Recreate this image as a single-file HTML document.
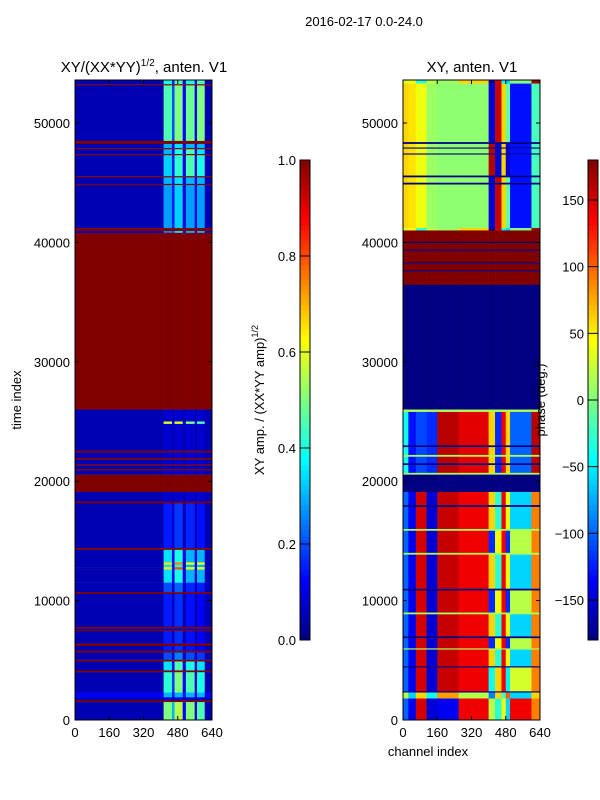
<!DOCTYPE html>
<html><head><meta charset="utf-8">
<style>
html,body{margin:0;padding:0;background:#fff;}
svg{display:block;font-family:"Liberation Sans",sans-serif;}
</style></head>
<body>
<svg id="fig" width="600" height="800" viewBox="0 0 600 800">
<rect x="0" y="0" width="600" height="800" fill="#fff"/>
<text x="364" y="26" font-size="13" text-anchor="middle">2016-02-17 0.0-24.0</text>
<text x="144" y="72" font-size="15" text-anchor="middle">XY/(XX*YY)<tspan font-size="10" dy="-6">1/2</tspan><tspan dy="6">, anten. V1</tspan></text>
<text x="472" y="72" font-size="15" text-anchor="middle">XY, anten. V1</text>
<g id="left"></g>
<g id="right"></g>
<g id="axes"></g>
<text x="0" y="0" font-size="13" text-anchor="middle" transform="translate(21,400) rotate(-90)">time index</text>
<text x="428" y="756" font-size="13" text-anchor="middle">channel index</text>
<text x="0" y="0" font-size="13" text-anchor="middle" transform="translate(264,400) rotate(-90)">XY amp. / (XX*YY amp)<tspan font-size="9" dy="-6">1/2</tspan></text>
<text x="0" y="0" font-size="13" text-anchor="middle" transform="translate(545,400) rotate(-90)">phase (deg.)</text>
</svg>
<script>
// ---- data ----
const leftChanEdges = [0,414,453,465,503,518,559,570,606,640];
const R=[1,1,1,1,1,1,1,1,1];
const BG=[0.05,0.08,0.05,0.08,0.05,0.08,0.05,0.08,0.05];
// rows: [timeStart, timeEnd, values per channel segment]
const leftBandRows = [
[53250,53600,[0.05,0.4,0.15,0.45,0.08,0.4,0.08,0.45,0.05]],
[53150,53250,R],
[48500,53150,[0.05,0.45,0.2,0.5,0.12,0.48,0.1,0.5,0.05]],
[48250,48500,R],
[47900,48250,[0.05,0.3,0.12,0.35,0.1,0.3,0.08,0.3,0.05]],
[47800,47900,R],
[47400,47800,[0.05,0.3,0.12,0.4,0.1,0.45,0.08,0.35,0.05]],
[47300,47400,R],
[45550,47300,[0.05,0.33,0.15,0.42,0.1,0.45,0.1,0.4,0.05]],
[45450,45550,R],
[44900,45450,[0.05,0.3,0.15,0.35,0.1,0.3,0.1,0.3,0.05]],
[44800,44900,R],
[41200,44800,[0.05,0.28,0.15,0.33,0.1,0.28,0.1,0.28,0.05]],
[40950,41200,R],
[40800,40950,[0.08,0.25,0.2,0.35,0.12,0.3,0.1,0.3,0.08]],
[26000,40800,R],
[25000,26000,BG],
[24800,25000,[0.05,0.6,0.1,0.6,0.1,0.5,0.1,0.45,0.05]],
[22550,24800,BG],
[22400,22550,R],
[21950,22400,BG],
[21800,21950,R],
[21420,21800,BG],
[21300,21420,R],
[21020,21300,BG],
[20900,21020,R],
[20550,20900,BG],
[19100,20550,R],
[18300,19100,BG],
[18150,18300,R],
[14400,18150,[0.05,0.15,0.08,0.18,0.06,0.16,0.06,0.14,0.05]],
[14250,14400,R],
[13200,14250,[0.05,0.35,0.12,0.4,0.1,0.3,0.08,0.3,0.05]],
[13000,13200,[0.05,0.65,0.15,0.75,0.1,0.6,0.1,0.6,0.05]],
[12800,13000,[0.05,0.35,0.12,0.4,0.1,0.3,0.08,0.3,0.05]],
[12600,12800,[0.05,0.65,0.15,0.8,0.1,0.6,0.1,0.6,0.05]],
[11500,12600,[0.05,0.35,0.12,0.4,0.1,0.3,0.08,0.3,0.05]],
[10700,11500,[0.05,0.2,0.08,0.22,0.06,0.16,0.06,0.15,0.05]],
[10550,10700,R],
[7800,10550,[0.05,0.15,0.06,0.17,0.05,0.14,0.05,0.12,0.05]],
[7650,7800,R],
[7550,7650,BG],
[7450,7550,R],
[6400,7450,[0.05,0.15,0.06,0.17,0.05,0.14,0.05,0.12,0.05]],
[6200,6400,R],
[5800,6200,[0.05,0.15,0.06,0.17,0.05,0.14,0.05,0.12,0.05]],
[5650,5800,R],
[5050,5650,[0.05,0.2,0.08,0.25,0.06,0.2,0.06,0.18,0.05]],
[4900,5050,R],
[4150,4900,[0.05,0.35,0.12,0.45,0.1,0.4,0.08,0.35,0.05]],
[4000,4150,R],
[2300,4000,[0.05,0.42,0.18,0.5,0.12,0.45,0.08,0.4,0.05]],
[1900,2300,[0.12,0.3,0.15,0.3,0.15,0.3,0.12,0.3,0.12]],
[1650,1900,BG],
[1500,1650,R],
[0,1500,[0.05,0.5,0.3,0.55,0.12,0.5,0.08,0.45,0.05]]
];

const rightChanEdges = [0,25,60,110,160,260,400,430,460,480,500,600,640];
const N=[-180,-180,-180,-180,-180,-180,-180,-180,-180,-180,-180,-180];
const D=[180,180,180,180,180,180,180,180,180,180,180,180];
const G=[15,15,15,15,15,15,15,15,15,15,15,15];
const TOP=[60,55,40,10,5,5,-150,155,60,-10,-130,-20];
const MID=[60,55,40,10,5,5,160,-150,60,-150,-130,-20];
const UP2=[-40,-130,-110,-120,160,145,60,-120,140,60,-100,160];
const LOW=[-100,-140,150,-150,155,140,60,-30,140,40,-60,90];
const LOW2=[-100,-140,150,-150,155,140,-120,40,140,-120,20,90];
const rightBandRows = [
[53300,53600,[30,40,-30,20,10,60,-170,150,-40,-60,0,170]],
[48400,53300,TOP],
[48250,48400,N],
[47950,48250,MID],
[47850,47950,N],
[47450,47850,MID],
[47350,47450,N],
[45600,47350,MID],
[45450,45600,N],
[45000,45450,TOP],
[44850,45000,N],
[41200,44850,TOP],
[41000,41200,[30,40,-30,20,10,60,-170,150,-40,-60,0,170]],
[40050,41000,D],
[39950,40050,N],
[39400,39950,D],
[39300,39400,N],
[38350,39300,D],
[38250,38350,N],
[37650,38250,D],
[37550,37650,N],
[36450,37550,D],
[26000,36450,N],
[25800,26000,G],
[23000,25800,UP2],
[22850,23000,N],
[22200,22850,UP2],
[22050,22200,G],
[21500,22050,UP2],
[21350,21500,N],
[20700,21350,UP2],
[20550,20700,G],
[19100,20550,N],
[18000,19100,LOW],
[17850,18000,N],
[16000,17850,LOW],
[15850,16000,G],
[14000,15850,LOW2],
[13850,14000,G],
[11000,13850,LOW],
[10850,11000,N],
[9000,10850,LOW2],
[8850,9000,G],
[7000,8850,LOW],
[6850,7000,N],
[6000,6850,LOW2],
[5900,6000,G],
[4500,5900,LOW],
[4400,4500,N],
[2400,4400,[-100,-140,150,-150,155,140,-40,60,140,-50,30,90]],
[2300,2400,N],
[1800,2300,[20,-60,60,-40,80,20,-90,60,-20,100,-60,60]],
[0,1800,[-100,-140,150,-150,-140,140,20,-30,40,-60,140,90]]
];

const ampTicks=[0,0.2,0.4,0.6,0.8,1.0];
const ampTickLabels=["0.0","0.2","0.4","0.6","0.8","1.0"];
const phaseTicks=[-150,-100,-50,0,50,100,150];
const phaseTickLabels=["\u2212150","\u2212100","\u221250","0","50","100","150"];
const timeTicks=[0,10000,20000,30000,40000,50000];
const chanTicks=[0,160,320,480,640];

// ---- helpers ----
const NS="http://www.w3.org/2000/svg";
function jet(v){v=Math.max(0,Math.min(1,v));
 const f=x=>Math.max(0,Math.min(1,x));
 const r=f(1.5-Math.abs(4*v-3)),g=f(1.5-Math.abs(4*v-2)),b=f(1.5-Math.abs(4*v-1));
 return `rgb(${Math.round(r*255)},${Math.round(g*255)},${Math.round(b*255)})`;}
function mk(tag,attrs,parent){const e=document.createElementNS(NS,tag);for(const k in attrs)e.setAttribute(k,attrs[k]);parent.appendChild(e);return e;}
const yT=t=>720-t*(597/50000);
const xL=c=>75+c*(137/640);
const xR=c=>403+c*(137/640);

function drawHeat(g,edges,rows,xf,norm,prefix){
 rows.forEach(row=>{
  const y0=yT(row[1]),y1=yT(row[0]);
  for(let j=0;j<edges.length-1;j++){
   const x0=xf(edges[j]),x1=xf(edges[j+1]);
   const v=row[2][j];
   const r=mk('rect',{x:x0,y:y0,width:x1-x0+0.3,height:Math.max(0.8,y1-y0+0.2),fill:jet(norm(v))},g);
   
   
  }
 });
}
drawHeat(document.getElementById('left'),leftChanEdges,leftBandRows,xL,v=>v,'amp');
drawHeat(document.getElementById('right'),rightChanEdges,rightBandRows,xR,v=>(v+180)/360,'phase');

const ax=document.getElementById('axes');
function frame(x,name){
 const r=mk('rect',{x:x,y:80,width:137,height:640,fill:'none',stroke:'#000','stroke-width':1},ax);
 
 
 timeTicks.forEach(t=>{const y=yT(t);
  mk('line',{x1:x,x2:x+4,y1:y,y2:y,stroke:'#000'},ax);
  mk('line',{x1:x+137,x2:x+133,y1:y,y2:y,stroke:'#000'},ax);
  const tx=mk('text',{x:x-5,y:y+5,'font-size':13,'text-anchor':'end'},ax);tx.textContent=t;
  
  
 });
 chanTicks.forEach(c=>{const xx=x+c*(137/640);
  mk('line',{x1:xx,x2:xx,y1:720,y2:716,stroke:'#000'},ax);
  mk('line',{x1:xx,x2:xx,y1:80,y2:84,stroke:'#000'},ax);
  const tx=mk('text',{x:xx,y:737,'font-size':13,'text-anchor':'middle'},ax);tx.textContent=c;
  
  
 });
}
frame(75,'left-axes-frame');frame(403,'right-axes-frame');

function colorbar(x,ticks,labels,lo,hi,name){
 for(let i=0;i<96;i++){
  const v=i/96;
  const r=mk('rect',{x:x,y:640-(i+1)*5,width:10,height:5.3,fill:jet(v+0.5/96)},ax);
  
  
 }
 const f=mk('rect',{x:x,y:160,width:10,height:480,fill:'none',stroke:'#000'},ax);
 
 
 ticks.forEach((t,i)=>{const y=640-(t-lo)/(hi-lo)*480;
  mk('line',{x1:x,x2:x+10,y1:y,y2:y,stroke:'#000'},ax);
  const tx=mk('text',{x:x-4,y:y+5,'font-size':13,'text-anchor':'end'},ax);tx.textContent=labels[i];
  
  
 });
}
colorbar(300,ampTicks,ampTickLabels,0,1,'amp-colorbar');
colorbar(588,phaseTicks,phaseTickLabels,-180,180,'phase-colorbar');
</script>
</body></html>
